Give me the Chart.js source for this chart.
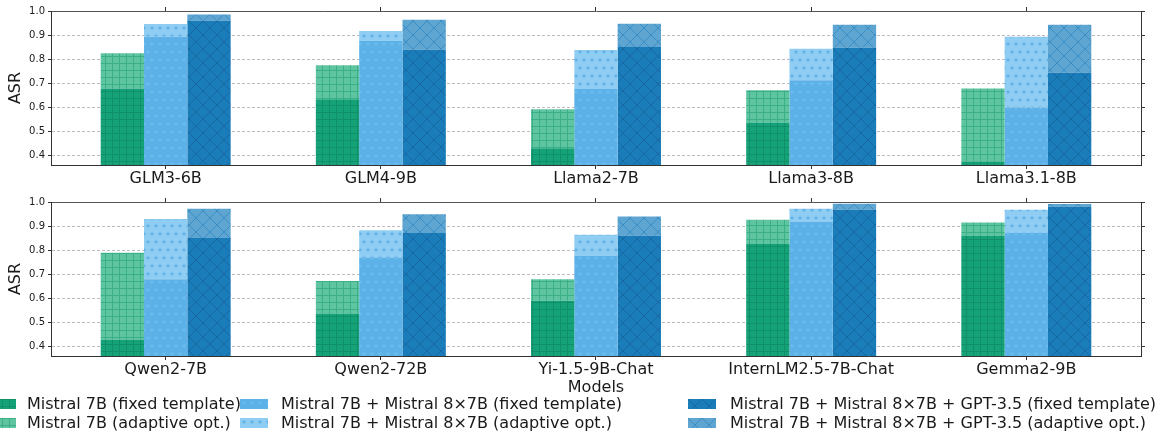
<!DOCTYPE html>
<html>
<head>
<meta charset="utf-8">
<script src="https://cdn.jsdelivr.net/npm/chart.js@4.4.1/dist/chart.umd.min.js"></script>
<style>
  body { margin: 0; background: #fff; width: 1172px; height: 440px; overflow: hidden; position: relative; font-family: "DejaVu Sans", sans-serif; }
  #top, #bottom { position: absolute; left: 0; }
  #top { top: 0; }
  #bottom { top: 190px; }
  .key { position: absolute; font-size: 16px; line-height: 19px; color: #1a1a1a; white-space: nowrap; }
  .swatch { position: absolute; }
</style>
</head>
<body>
<canvas id="top" width="1172" height="190"></canvas>
<canvas id="bottom" width="1172" height="210"></canvas>
<div id="legend"></div>
<script>
// values (ASR)
var topModels = ['GLM3-6B', 'GLM4-9B', 'Llama2-7B', 'Llama3-8B', 'Llama3.1-8B'];
var topM7Fixed = [0.678, 0.633, 0.430, 0.537, 0.374];
var topM7Adaptive = [0.824, 0.775, 0.592, 0.671, 0.678];
var topM8Fixed = [0.893, 0.876, 0.676, 0.712, 0.599];
var topM8Adaptive = [0.946, 0.917, 0.838, 0.843, 0.893];
var topGptFixed = [0.960, 0.839, 0.850, 0.847, 0.743];
var topGptAdaptive = [0.985, 0.964, 0.947, 0.943, 0.943];

var bottomModels = ['Qwen2-7B', 'Qwen2-72B', 'Yi-1.5-9B-Chat', 'InternLM2.5-7B-Chat', 'Gemma2-9B'];
var bottomM7Fixed = [0.429, 0.537, 0.590, 0.825, 0.861];
var bottomM7Adaptive = [0.789, 0.672, 0.679, 0.926, 0.915];
var bottomM8Fixed = [0.679, 0.767, 0.778, 0.919, 0.871];
var bottomM8Adaptive = [0.929, 0.883, 0.864, 0.972, 0.968];
var bottomGptFixed = [0.850, 0.871, 0.860, 0.968, 0.981];
var bottomGptAdaptive = [0.972, 0.949, 0.940, 0.993, 0.992];

var yTicks = [0.4, 0.5, 0.6, 0.7, 0.8, 0.9, 1.0];
var seriesNames = [
  'Mistral 7B (fixed template)', 'Mistral 7B (adaptive opt.)',
  'Mistral 7B + Mistral 8\u00d77B (fixed template)', 'Mistral 7B + Mistral 8\u00d77B (adaptive opt.)',
  'Mistral 7B + Mistral 8\u00d77B + GPT-3.5 (fixed template)', 'Mistral 7B + Mistral 8\u00d77B + GPT-3.5 (adaptive opt.)'
];

// look of each series: background, hatch colour, hatch kind
var styles = [
  {bg: '#16a279', line: '#0f9068', kind: 'grid'},
  {bg: '#5fc5a0', line: '#3bb088', kind: 'grid'},
  {bg: '#5cb2e8', line: '#6dbbed', kind: 'star'},
  {bg: '#8fcdf2', line: '#63b3e9', kind: 'star'},
  {bg: '#1b7cba', line: '#166aa1', kind: 'cross'},
  {bg: '#5ea5d1', line: '#3a8ec3', kind: 'cross'}
];

function drawStar(p, x, y) {
  p.beginPath();
  for (var i = 0; i < 10; i++) {
    var r = i % 2 === 0 ? 2.6 : 1.1;
    var a = -Math.PI / 2 + i * Math.PI / 5;
    p.lineTo(x + r * Math.cos(a), y + r * Math.sin(a));
  }
  p.closePath();
  p.fill();
}

function makePattern(ctx, style) {
  var c = document.createElement('canvas');
  var w = style.kind === 'grid' ? 7 : (style.kind === 'star' ? 8 : 14);
  var h = style.kind === 'star' ? 16 : w;
  c.width = w;
  c.height = h;
  var p = c.getContext('2d');
  p.fillStyle = style.bg;
  p.fillRect(0, 0, w, h);
  p.strokeStyle = style.line;
  p.fillStyle = style.line;
  p.lineWidth = 1;
  if (style.kind === 'grid') {
    p.beginPath();
    p.moveTo(0, 0.5); p.lineTo(w, 0.5);
    p.moveTo(0.5, 0); p.lineTo(0.5, h);
    p.stroke();
  } else if (style.kind === 'star') {
    drawStar(p, 4, 4);
    drawStar(p, 0, 12);
    drawStar(p, 8, 12);
  } else {
    p.beginPath();
    p.moveTo(0, 0); p.lineTo(w, h);
    p.moveTo(w, 0); p.lineTo(0, h);
    p.stroke();
  }
  return ctx.createPattern(c, 'repeat');
}

function points(values) {
  return values.map((v, i) => ({x: i, y: v}));
}

function diff(tops, bases) {
  return tops.map((v, i) => v - bases[i]);
}

function buildDatasets(ctx, series) {
  var stacks = ['m7', 'm7', 'm8', 'm8', 'gpt', 'gpt'];
  return series.map((values, i) => ({
    label: seriesNames[i],
    data: points(values),
    stack: stacks[i],
    backgroundColor: makePattern(ctx, styles[i]),
    borderWidth: 0
  }));
}

function centerTicks(scale) {
  scale.ticks = [0, 1, 2, 3, 4].map((v) => ({value: v}));
}

function valueTicks(scale) {
  scale.ticks = yTicks.map((v) => ({value: v}));
}

function makeOptions(labels, topGap, bottomGap, showTitle) {
  var tickFont = {family: 'DejaVu Sans', size: 16};
  return {
    responsive: false,
    animation: false,
    devicePixelRatio: 1,
    layout: {padding: 0},
    categoryPercentage: 0.604,
    barPercentage: 1.0,
    plugins: {legend: {display: false}, tooltip: {enabled: false}},
    scales: {
      x: {
        type: 'linear',
        position: 'bottom',
        offset: false,
        min: -0.533,
        max: 4.533,
        afterBuildTicks: centerTicks,
        afterFit: (s) => { s.height = bottomGap; },
        ticks: {
          color: '#1a1a1a',
          font: tickFont,
          padding: 0,
          maxRotation: 0,
          autoSkip: false,
          callback: (v) => labels[v]
        },
        grid: {offset: false, drawOnChartArea: false, tickLength: 4, tickColor: '#333', tickWidth: 1},
        border: {color: '#333', width: 1},
        title: {
          display: showTitle,
          text: 'Models',
          color: '#1a1a1a',
          font: tickFont,
          padding: {top: 0, bottom: 3}
        }
      },
      xTop: {
        type: 'linear',
        axis: 'x',
        position: 'top',
        offset: false,
        min: -0.533,
        max: 4.533,
        afterBuildTicks: centerTicks,
        afterFit: (s) => { s.height = topGap; },
        ticks: {display: false},
        grid: {offset: false, drawOnChartArea: false, tickLength: 4, tickColor: '#333', tickWidth: 1},
        border: {color: '#555', width: 1}
      },
      y: {
        stacked: true,
        min: 0.36,
        max: 1.0,
        z: 1,
        afterBuildTicks: valueTicks,
        afterFit: (s) => { s.width = 51; },
        ticks: {
          color: '#1a1a1a',
          font: {family: 'DejaVu Sans', size: 10},
          padding: 3,
          callback: (v) => v.toFixed(1)
        },
        grid: {color: '#b5b5b5', lineWidth: 0.9, tickLength: 3, tickColor: '#333', tickWidth: 1},
        border: {color: '#333', width: 1, dash: [3, 2]},
        title: {
          display: true,
          text: 'ASR',
          color: '#1a1a1a',
          font: {family: 'DejaVu Sans', size: 16},
          padding: {top: 6, bottom: 0}
        }
      },
      yRight: {
        type: 'linear',
        axis: 'y',
        position: 'right',
        min: 0.36,
        max: 1.0,
        afterBuildTicks: valueTicks,
        afterFit: (s) => { s.width = 31; },
        ticks: {display: false},
        grid: {drawOnChartArea: false, tickLength: 4, tickColor: '#333', tickWidth: 1},
        border: {color: '#333', width: 1}
      }
    }
  };
}

function renderChart(id, labels, series, topGap, bottomGap, showTitle) {
  var canvas = document.getElementById(id);
  var ctx = canvas.getContext('2d');
  return new Chart(canvas, {
    type: 'bar',
    data: {datasets: buildDatasets(ctx, series)},
    options: makeOptions(labels, topGap, bottomGap, showTitle)
  });
}

function renderLegend() {
  var legend = document.getElementById('legend');
  // matplotlib ncol=3 layout: columns hold fixed/adaptive pairs
  var swatchX = [-12, 240, 688];
  var textX = [27, 281, 730];
  var rowY = [404, 423];
  seriesNames.forEach((name, i) => {
    var col = Math.floor(i / 2);
    var row = i % 2;
    var sw = document.createElement('canvas');
    sw.width = 28;
    sw.height = 10;
    sw.className = 'swatch';
    sw.style.left = swatchX[col] + 'px';
    sw.style.top = (rowY[row] - 5) + 'px';
    var sctx = sw.getContext('2d');
    sctx.fillStyle = makePattern(sctx, styles[i]);
    sctx.fillRect(0, 0, 28, 10);
    legend.appendChild(sw);

    var label = document.createElement('div');
    label.className = 'key';
    label.textContent = name;
    label.style.left = textX[col] + 'px';
    label.style.top = (rowY[row] - 10) + 'px';
    legend.appendChild(label);
  });
}

renderChart('top', topModels, [
  topM7Fixed, diff(topM7Adaptive, topM7Fixed),
  topM8Fixed, diff(topM8Adaptive, topM8Fixed),
  topGptFixed, diff(topGptAdaptive, topGptFixed)
], 11, 25, false);

renderChart('bottom', bottomModels, [
  bottomM7Fixed, diff(bottomM7Adaptive, bottomM7Fixed),
  bottomM8Fixed, diff(bottomM8Adaptive, bottomM8Fixed),
  bottomGptFixed, diff(bottomGptAdaptive, bottomGptFixed)
], 12, 44, true);

renderLegend();
</script>
</body>
</html>
